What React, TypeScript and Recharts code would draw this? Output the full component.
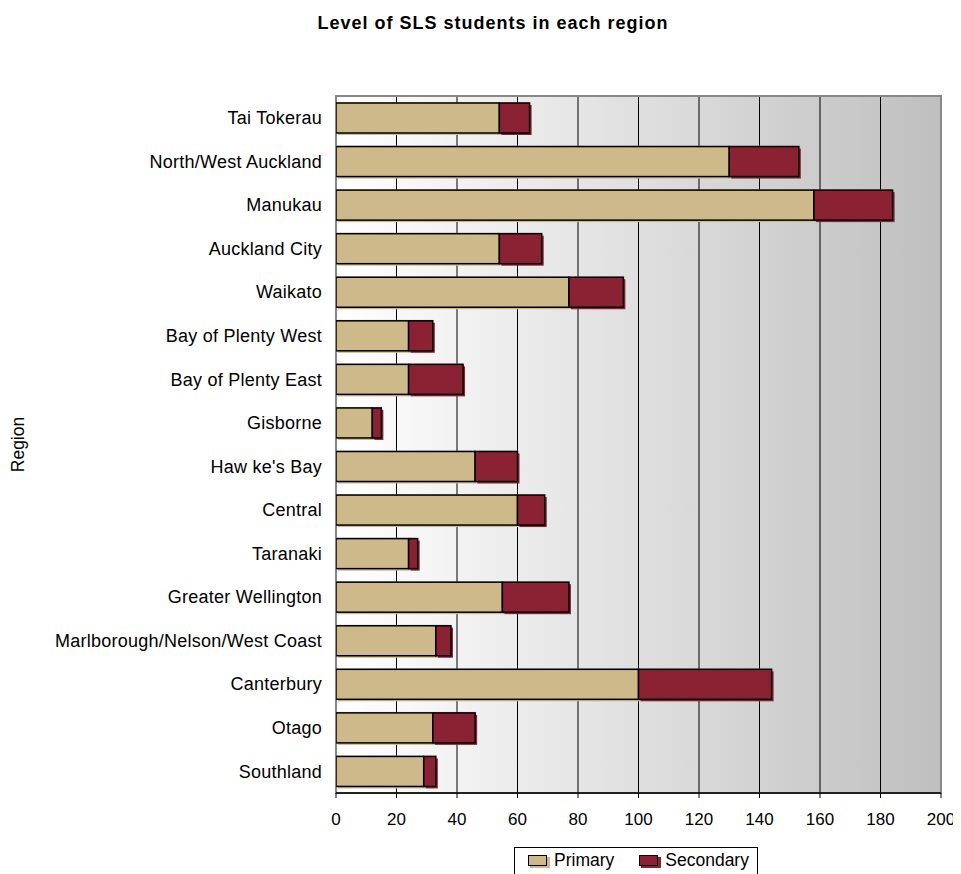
import React from 'react';
import {
  BarChart,
  Bar,
  XAxis,
  YAxis,
  CartesianGrid,
  ReferenceArea,
} from 'recharts';

const regions = [
  'Tai Tokerau',
  'North/West Auckland',
  'Manukau',
  'Auckland City',
  'Waikato',
  'Bay of Plenty West',
  'Bay of Plenty East',
  'Gisborne',
  "Haw ke's Bay",
  'Central',
  'Taranaki',
  'Greater Wellington',
  'Marlborough/Nelson/West Coast',
  'Canterbury',
  'Otago',
  'Southland',
];

const primary = [54, 130, 158, 54, 77, 24, 24, 12, 46, 60, 24, 55, 33, 100, 32, 29];
const secondary = [10, 23, 26, 14, 18, 8, 18, 3, 14, 9, 3, 22, 5, 44, 14, 4];

const xTicks = [0, 20, 40, 60, 80, 100, 120, 140, 160, 180, 200];
const boundaryTicks = [0, 1, 2, 3, 4, 5, 6, 7, 8, 9, 10, 11, 12, 13, 14, 15, 16];

const title = 'Level of SLS students in each region';
const yTitle = 'Region';
const seriesNames = ['Primary', 'Secondary'];

const PRIMARY_COLOR = '#CDB98A';
const SECONDARY_COLOR = '#8A2233';
const FONT = '"Liberation Sans", Arial, sans-serif';

const data = regions.map((r, i) => ({
  region: r,
  primary: primary[i],
  secondary: secondary[i],
}));

const ShadowBar = (props: any) => {
  const { x, y, width, height, fill } = props;
  if (!width || width <= 0) return null;
  return (
    <g>
      <rect x={x + 2} y={y + 2} width={width} height={height} fill={fill} />
      <rect x={x} y={y - 1} width={width} height={1} fill="#999" opacity={0.6} />
      <rect
        x={x}
        y={y}
        width={width}
        height={height}
        fill={fill}
        stroke="#000"
        strokeWidth={1.5}
      />
    </g>
  );
};

const RegionLabel = (props: any) => {
  const vb = props.viewBox || {};
  const cx = 10;
  const cy = (vb.y ?? 88) + (vb.height ?? 697) / 2;
  return (
    <text
      x={cx}
      y={cy}
      transform={`rotate(-90, ${cx}, ${cy})`}
      textAnchor="middle"
      dominantBaseline="central"
      fontSize={17.5}
      fontFamily={FONT}
      fill="#000"
    >
      {yTitle}
    </text>
  );
};

const Swatch = ({ color }: { color: string }) => (
  <span style={{ position: 'relative', display: 'inline-block', width: 21, height: 12, marginRight: 5 }}>
    <span style={{ position: 'absolute', left: 2, top: 2, width: 20, height: 11, background: color }} />
    <span
      style={{
        position: 'absolute',
        left: 0,
        top: 0,
        width: 17,
        height: 9,
        background: color,
        border: '1.5px solid #000',
      }}
    />
  </span>
);

export default function App() {
  return (
    <div style={{ position: 'relative', width: 953, height: 866, fontFamily: FONT, overflow: 'hidden' }}>
      <div
        style={{
          position: 'absolute',
          left: 0,
          top: 6,
          width: 970,
          textAlign: 'center',
          fontSize: 18,
          lineHeight: '18px',
          fontWeight: 'bold',
          letterSpacing: 1,
          color: '#000',
        }}
      >
        {title}
      </div>
      <BarChart
        width={953}
        height={866}
        data={data}
        layout="vertical"
        margin={{ top: 88, right: 20, bottom: 41, left: 0 }}
        barSize={30}
      >
        <defs>
          <linearGradient id="plotBg" x1="0" y1="0" x2="1" y2="0">
            <stop offset="0%" stopColor="#ffffff" />
            <stop offset="100%" stopColor="#bfbfbf" />
          </linearGradient>
        </defs>
        <CartesianGrid
          horizontal={false}
          vertical
          stroke="#000"
          strokeWidth={1}
          fill="url(#plotBg)"
          fillOpacity={1}
        />
        <ReferenceArea
          x1={0}
          x2={200}
          fill="none"
          stroke="#888"
          strokeWidth={2}
          ifOverflow="visible"
        />
        <XAxis
          type="number"
          domain={[0, 200]}
          ticks={xTicks}
          interval={0}
          allowDataOverflow
          height={40}
          tickSize={5}
          tickMargin={15}
          stroke="#000"
          axisLine={{ stroke: '#000', strokeWidth: 1.5 }}
          tickLine={{ stroke: '#000' }}
          tick={{ fontSize: 17, fill: '#000', fontFamily: FONT }}
        />
        <YAxis
          yAxisId="bounds"
          type="number"
          orientation="left"
          domain={[0, 16]}
          ticks={boundaryTicks}
          interval={0}
          width={0}
          tick={false}
          tickSize={5}
          axisLine={{ stroke: '#333', strokeWidth: 2 }}
          tickLine={{ stroke: '#000' }}
        />
        <YAxis
          type="category"
          dataKey="region"
          width={328}
          interval={0}
          axisLine={false}
          tickLine={false}
          tickSize={5}
          tickMargin={9}
          tick={{ fontSize: 18, fill: '#000', fontFamily: FONT, letterSpacing: 0.25 }}
          label={<RegionLabel />}
        />
        <Bar
          dataKey="primary"
          name={seriesNames[0]}
          stackId="a"
          fill={PRIMARY_COLOR}
          shape={<ShadowBar />}
          isAnimationActive={false}
        />
        <Bar
          dataKey="secondary"
          name={seriesNames[1]}
          stackId="a"
          fill={SECONDARY_COLOR}
          shape={<ShadowBar />}
          isAnimationActive={false}
        />
      </BarChart>
      <div
        style={{
          position: 'absolute',
          left: 506,
          top: 839,
          width: 244,
          height: 30,
          border: '1px solid #000',
          background: '#fff',
          display: 'flex',
          alignItems: 'center',
          fontSize: 17.5,
          color: '#000',
          boxSizing: 'border-box',
          paddingLeft: 13,
          paddingBottom: 3,
        }}
      >
        <Swatch color={PRIMARY_COLOR} />
        <span>{seriesNames[0]}</span>
        <span style={{ width: 25 }} />
        <Swatch color={SECONDARY_COLOR} />
        <span>{seriesNames[1]}</span>
      </div>
    </div>
  );
}
